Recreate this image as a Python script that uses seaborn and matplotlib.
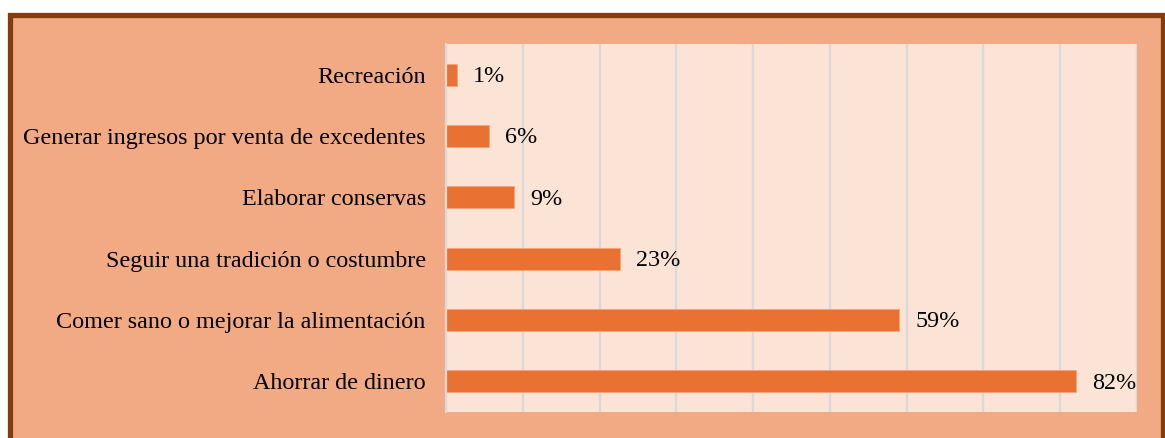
import matplotlib
matplotlib.use('Agg')
import matplotlib.pyplot as plt
import matplotlib.patches as mpatches
import seaborn as sbn
import pandas as pd

# values (share of respondents)
categories = ['Recreación',
              'Generar ingresos por venta de excedentes',
              'Elaborar conservas',
              'Seguir una tradición o costumbre',
              'Comer sano o mejorar la alimentación',
              'Ahorrar de dinero']
shares = [0.014, 0.056, 0.089, 0.227, 0.59, 0.82]

bar_color = '#E97132'
plot_bg = '#FBE3D6'
fig_bg = '#F1AA84'
border = '#843C0C'

df = pd.DataFrame({'motivo': categories, 'share': shares})

sbn.set_style('white')
plt.rcParams['font.family'] = ['Liberation Serif', 'DejaVu Serif']

fig = plt.figure(figsize=(11.65, 4.38), dpi=100)
fig.patch.set_facecolor('white')

# salmon panel with dark brown frame (bottom edge runs off the image)
W, H = 1165.0, 438.0
frame = mpatches.Rectangle((9.5 / W, -0.05), (1162.5 - 9.5) / W, (H - 14.5) / H + 0.05,
                           transform=fig.transFigure, facecolor=fig_bg,
                           edgecolor=border, linewidth=3.8, zorder=-10)
fig.patches.append(frame)

ax = fig.add_axes([446 / W, (H - 412) / H, (1137 - 446) / W, (412 - 44) / H])
ax.set_zorder(1)
ax.set_facecolor(plot_bg)

sbn.barplot(data=df, y='motivo', x='share', ax=ax, color=bar_color,
            saturation=1, width=0.36, edgecolor='#F4A47A', linewidth=0.6)

ax.set_xlim(0, 0.9)
ax.set_xticks([i / 10 for i in range(10)])
ax.xaxis.grid(True, color='#D9D9D9', linewidth=1.6)
ax.set_axisbelow(True)
ax.tick_params(axis='x', bottom=False, labelbottom=False)
ax.tick_params(axis='y', left=False, labelsize=17.4, labelcolor='black', pad=11)
ax.set_xlabel('')
ax.set_ylabel('')
for s in ax.spines.values():
    s.set_visible(False)
ax.spines['left'].set_visible(True)
ax.spines['left'].set_color('#D9D9D9')
ax.spines['left'].set_linewidth(1.6)

for i, v in enumerate(shares):
    ax.text(v + 0.021, i + 0.03, '{:.0f}%'.format(v * 100), va='center', ha='left',
            fontsize=17.4, color='black')

fig.savefig('out.png', dpi=100, facecolor=fig.get_facecolor())
